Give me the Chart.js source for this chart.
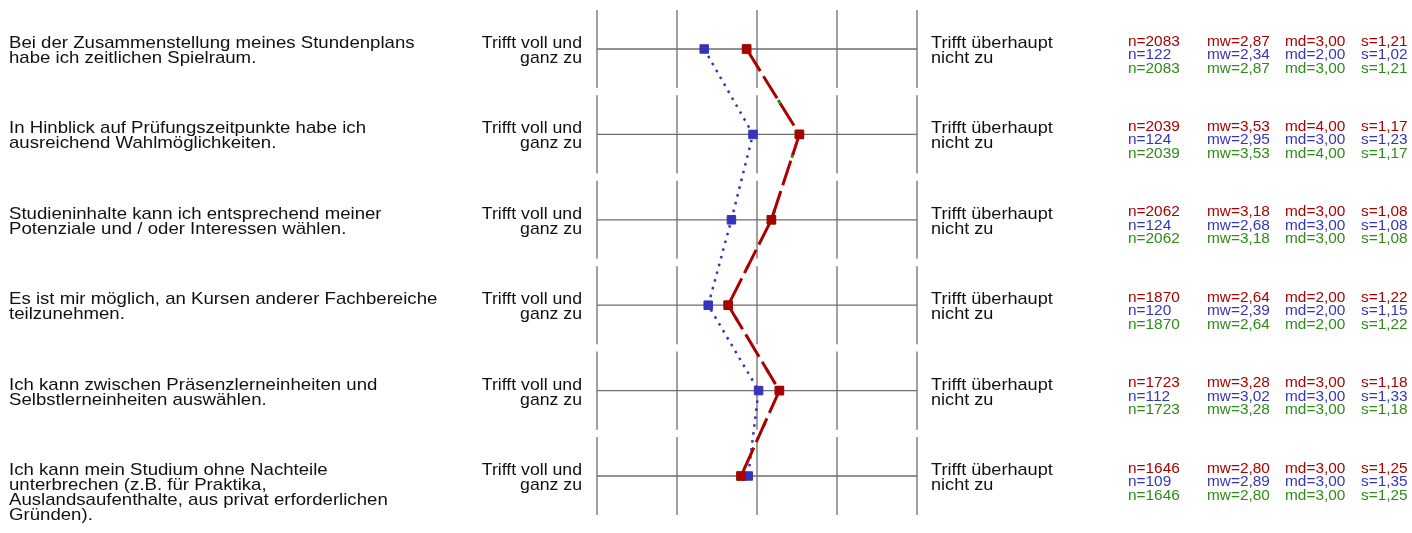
<!DOCTYPE html>
<html>
<head>
<meta charset="utf-8">
<script src="https://cdn.jsdelivr.net/npm/chart.js"></script>
<style>
  body { margin: 0; background: #fff; }
  #wrap { width: 1412px; height: 533px; }
</style>
</head>
<body>
<div id="wrap"><canvas id="chart"></canvas></div>
<script>
// items (already wrapped like the original)
const items = [
  ["Bei der Zusammenstellung meines Stundenplans", "habe ich zeitlichen Spielraum."],
  ["In Hinblick auf Prüfungszeitpunkte habe ich", "ausreichend Wahlmöglichkeiten."],
  ["Studieninhalte kann ich entsprechend meiner", "Potenziale und / oder Interessen wählen."],
  ["Es ist mir möglich, an Kursen anderer Fachbereiche", "teilzunehmen."],
  ["Ich kann zwischen Präsenzlerneinheiten und", "Selbstlerneinheiten auswählen."],
  ["Ich kann mein Studium ohne Nachteile", "unterbrechen (z.B. für Praktika,", "Auslandsaufenthalte, aus privat erforderlichen", "Gründen)."]
];
const leftPole = ["Trifft voll und", "ganz zu"];
const rightPole = ["Trifft überhaupt", "nicht zu"];
const scaleTicks = [1, 2, 3, 4, 5];

// series 1 (red)
const redN  = [2083, 2039, 2062, 1870, 1723, 1646];
const redMw = [2.87, 3.53, 3.18, 2.64, 3.28, 2.80];
const redMd = [3.00, 4.00, 3.00, 2.00, 3.00, 3.00];
const redS  = [1.21, 1.17, 1.08, 1.22, 1.18, 1.25];
// series 2 (blue)
const blueN  = [122, 124, 124, 120, 112, 109];
const blueMw = [2.34, 2.95, 2.68, 2.39, 3.02, 2.89];
const blueMd = [2.00, 3.00, 3.00, 2.00, 3.00, 3.00];
const blueS  = [1.02, 1.23, 1.08, 1.15, 1.33, 1.35];
// series 3 (green)
const greenN  = [2083, 2039, 2062, 1870, 1723, 1646];
const greenMw = [2.87, 3.53, 3.18, 2.64, 3.28, 2.80];
const greenMd = [3.00, 4.00, 3.00, 2.00, 3.00, 3.00];
const greenS  = [1.21, 1.17, 1.08, 1.22, 1.18, 1.25];

const RED = "#aa0000", BLUE = "#3535bb", GREEN = "#2f8a1a";
const FONT = '"Liberation Sans", Arial, sans-serif';

const pts = mw => mw.map((v, i) => ({ x: v, y: i }));
const fmt = v => v.toFixed(2).replace(".", ",");

function stretchText(ctx, txt, x, y, align, sx) {
  ctx.save();
  ctx.translate(x, y);
  ctx.scale(sx, 1);
  ctx.textAlign = align;
  ctx.fillText(txt, 0, 0);
  ctx.restore();
}

const profileGrid = {
  id: "profileGrid",
  beforeDatasetsDraw(chart) {
    const ctx = chart.ctx, xs = chart.scales.x, ys = chart.scales.y;
    ctx.save();
    ctx.strokeStyle = "#6e6e6e";
    ctx.lineWidth = 1.3;
    items.forEach((_, i) => {
      const y = ys.getPixelForValue(i);
      const y0 = ys.getPixelForValue(i - 0.457), y1 = ys.getPixelForValue(i + 0.457);
      ctx.beginPath();
      ctx.moveTo(xs.getPixelForValue(scaleTicks[0]), y);
      ctx.lineTo(xs.getPixelForValue(scaleTicks[scaleTicks.length - 1]), y);
      scaleTicks.forEach(t => {
        const x = xs.getPixelForValue(t);
        ctx.moveTo(x, y0);
        ctx.lineTo(x, y1);
      });
      ctx.stroke();
    });
    ctx.restore();
  },
  afterDraw(chart) {
    const ctx = chart.ctx, xs = chart.scales.x, ys = chart.scales.y;
    const xl = xs.getPixelForValue(1), xr = xs.getPixelForValue(5);
    ctx.save();
    ctx.textBaseline = "alphabetic";
    items.forEach((lines, i) => {
      const y = ys.getPixelForValue(i);
      ctx.fillStyle = "#111";
      ctx.font = "17px " + FONT;
      lines.forEach((t, k) => stretchText(ctx, t, 9, y - 1 + k * 15, "left", 1.095));
      leftPole.forEach((t, k) => stretchText(ctx, t, xl - 15, y - 1 + k * 15, "right", 1.04));
      rightPole.forEach((t, k) => stretchText(ctx, t, xr + 14, y - 1 + k * 15, "left", 1.065));

      ctx.font = "14px " + FONT;
      const rows = [
        [RED, redN, redMw, redMd, redS],
        [BLUE, blueN, blueMw, blueMd, blueS],
        [GREEN, greenN, greenMw, greenMd, greenS]
      ];
      rows.forEach((r, k) => {
        const yy = y - 3.5 + k * 13.5;
        ctx.fillStyle = r[0];
        stretchText(ctx, "n=" + r[1][i], 1128, yy, "left", 1.1);
        stretchText(ctx, "mw=" + fmt(r[2][i]), 1207, yy, "left", 1.1);
        stretchText(ctx, "md=" + fmt(r[3][i]), 1285, yy, "left", 1.1);
        stretchText(ctx, "s=" + fmt(r[4][i]), 1361, yy, "left", 1.1);
      });
    });
    ctx.restore();
  }
};

new Chart(document.getElementById("chart"), {
  type: "scatter",
  data: {
    datasets: [
      {
        label: "red", data: pts(redMw), showLine: true, order: 0,
        borderColor: RED, backgroundColor: RED, borderWidth: 3, borderDash: [26, 6],
        pointStyle: "rect", pointRadius: 6, pointBorderWidth: 1, pointBorderColor: RED,
        pointBackgroundColor: RED, clip: false
      },
      {
        label: "green", data: pts(greenMw), showLine: true, order: 1,
        borderColor: GREEN, backgroundColor: GREEN, borderWidth: 3, borderDash: [5, 55],
        pointStyle: "rect", pointRadius: 6, pointBorderWidth: 1, pointBorderColor: GREEN,
        pointBackgroundColor: GREEN, clip: false
      },
      {
        label: "blue", data: pts(blueMw), showLine: true, order: 2,
        borderColor: BLUE, backgroundColor: BLUE, borderWidth: 2.5, borderDash: [2.5, 5.5],
        pointStyle: "rect", pointRadius: 6, pointBorderWidth: 1, pointBorderColor: BLUE,
        pointBackgroundColor: BLUE, clip: false
      }
    ]
  },
  options: {
    responsive: true,
    maintainAspectRatio: false,
    animation: false,
    layout: { padding: { left: 597, right: 495, top: 49, bottom: 57 } },
    scales: {
      x: { type: "linear", min: 1, max: 5, display: false },
      y: { type: "linear", min: 0, max: 5, reverse: true, display: false }
    },
    plugins: { legend: { display: false }, tooltip: { enabled: false } }
  },
  plugins: [profileGrid]
});
</script>
</body>
</html>
